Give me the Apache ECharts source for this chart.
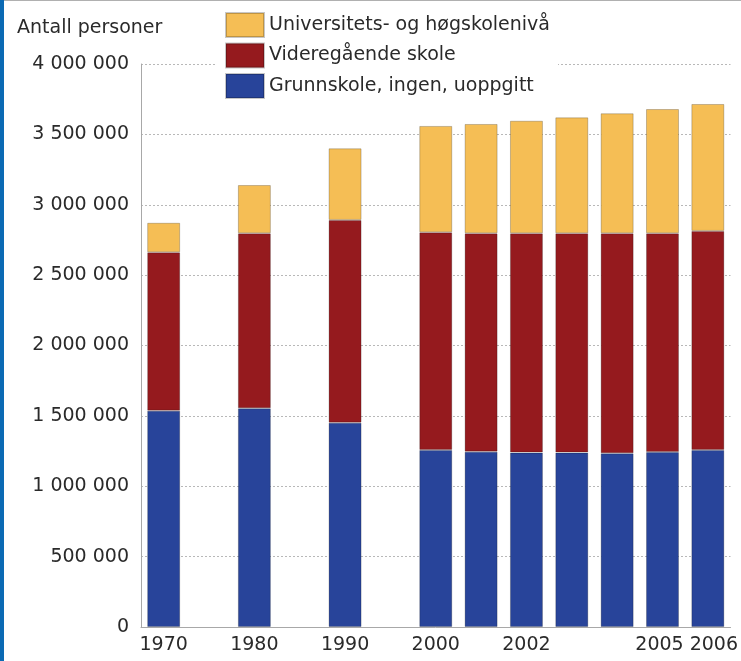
<!DOCTYPE html>
<html>
<head>
<meta charset="utf-8">
<script src="https://cdn.jsdelivr.net/npm/echarts@6/dist/echarts.min.js"></script>
<style>
  html, body { margin: 0; padding: 0; background: #fff; }
  #chart { position: absolute; left: 0; top: 0; width: 741px; height: 661px; }
  .edge-left { position: absolute; left: 0; top: 0; width: 4px; height: 661px; background: #0b6ab4; }
  .edge-top { position: absolute; left: 0; top: 0; width: 741px; height: 1px; background: #b0b0b0; }
</style>
</head>
<body>
<div id="chart"></div>
<div class="edge-top"></div>
<div class="edge-left"></div>
<script>
  // år (tomme plasser mellom tiårene)
  const categories = ['1970', '', '1980', '', '1990', '', '2000', '2001', '2002', '2003', '2004', '2005', '2006']
  const shownLabels = ['1970', '1980', '1990', '2000', '2002', '2005', '2006']

  // Grunnskole, ingen, uoppgitt
  const grunnskole = [1537000, null, 1554000, null, 1452000, null, 1258000, 1246000, 1239000, 1239000, 1234000, 1243000, 1258000]
  // Videregående skole
  const videregaende = [1125000, null, 1243000, null, 1440000, null, 1546000, 1551000, 1558000, 1558000, 1563000, 1554000, 1556000]
  // Universitets- og høgskolenivå
  const universitet = [210000, null, 343000, null, 509000, null, 756000, 777000, 800000, 824000, 853000, 883000, 902000]

  const yTicks = [0, 500000, 1000000, 1500000, 2000000, 2500000, 3000000, 3500000, 4000000]

  const font = '"DejaVu Sans", sans-serif'
  const textColor = '#2a2a2a'
  const fmt = (v) => String(v).replace(/\B(?=(\d{3})+(?!\d))/g, ' ')

  // de to siste årstallene står litt fra hverandre
  const labelStyle = (v) => {
    if (!shownLabels.includes(v)) return ''
    if (v === '2005') return '{l|' + v + '}'
    if (v === '2006') return '{r|' + v + '}'
    return v
  }

  const bar = (name, data, color) => ({
    name,
    type: 'bar',
    stack: 'total',
    data,
    barWidth: 33,
    itemStyle: {
      color,
      borderColor: 'rgba(0,0,0,0.22)',
      borderWidth: 1,
    },
  })

  const myChart = echarts.init(document.getElementById('chart'))

  myChart.setOption({
    animation: false,
    title: {
      text: 'Antall personer',
      left: 12,
      top: 14,
      textStyle: { fontFamily: font, fontSize: 19, fontWeight: 'normal', color: textColor },
    },
    legend: {
      orient: 'vertical',
      left: 217,
      top: 9,
      padding: [3, 8, 3, 8],
      backgroundColor: '#fff',
      itemWidth: 38,
      itemHeight: 24,
      itemGap: 4.5,
      icon: 'rect',
      textStyle: { fontFamily: font, fontSize: 19, lineHeight: 24, color: textColor },
      data: ['Universitets- og høgskolenivå', 'Videregående skole', 'Grunnskole, ingen, uoppgitt'],
    },
    grid: {
      left: 141,
      right: 10,
      top: 64,
      bottom: 34,
    },
    xAxis: {
      type: 'category',
      data: categories,
      axisLine: { show: true, lineStyle: { color: '#a8a8a8', width: 1 } },
      axisTick: { show: false },
      axisLabel: {
        interval: 0,
        margin: 9,
        color: textColor,
        fontFamily: font,
        fontSize: 19,
        formatter: labelStyle,
        rich: {
          l: { fontFamily: font, fontSize: 19, color: textColor, padding: [0, 6, 0, 0] },
          r: { fontFamily: font, fontSize: 19, color: textColor, padding: [0, 0, 0, 12] },
        },
      },
    },
    yAxis: {
      type: 'value',
      min: yTicks[0],
      max: yTicks[yTicks.length - 1],
      interval: 500000,
      axisLine: { show: true, lineStyle: { color: '#a8a8a8', width: 1 } },
      axisTick: { show: false },
      splitLine: { show: true, lineStyle: { color: '#b8b8b8', type: [2, 2], width: 1 } },
      axisLabel: {
        margin: 12,
        color: textColor,
        fontFamily: font,
        fontSize: 19,
        formatter: (v) => fmt(v),
      },
    },
    series: [
      bar('Grunnskole, ingen, uoppgitt', grunnskole, '#28449a'),
      bar('Videregående skole', videregaende, '#951a1e'),
      bar('Universitets- og høgskolenivå', universitet, '#f5be55'),
    ],
  })
</script>
</body>
</html>
